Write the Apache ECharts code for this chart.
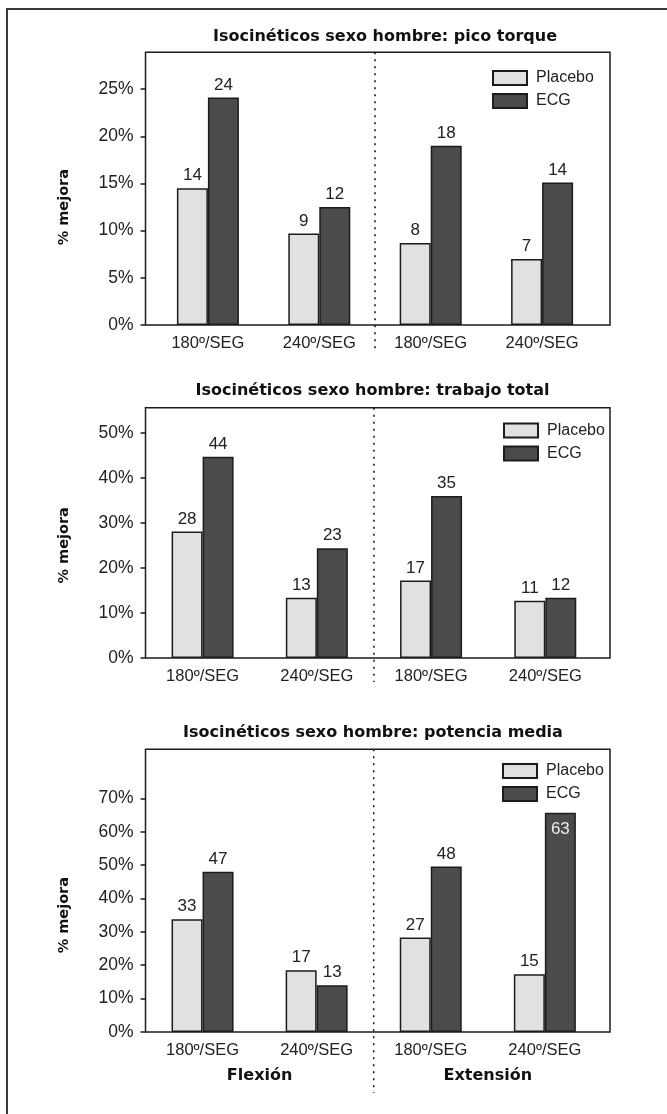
<!DOCTYPE html>
<html>
<head>
<meta charset="utf-8">
<script src="https://cdn.jsdelivr.net/npm/echarts@6/dist/echarts.min.js"></script>
<style>
html, body { margin: 0; padding: 0; background: #fff; }
#frame { position: absolute; left: 6px; top: 7.5px; width: 720px; height: 1200px; border: 2.5px solid #3a3a3a; box-sizing: border-box; }
#chart { position: absolute; left: 0; top: 0; width: 667px; height: 1114px; }
</style>
</head>
<body>
<div id="frame"></div>
<div id="chart"></div>
<script>
// ---------- data ----------
const categories = ['180º/SEG', '240º/SEG', '180º/SEG', '240º/SEG'];
const groupNames = ['Flexión', 'Extensión'];
const seriesNames = ['Placebo', 'ECG'];
const titles = [
  'Isocinéticos sexo hombre: pico torque',
  'Isocinéticos sexo hombre: trabajo total',
  'Isocinéticos sexo hombre: potencia media'
];
const yAxisName = '% mejora';

// bar heights (% mejora) as drawn
const torquePlacebo = [14.5, 9.7, 8.7, 7.0];
const torqueECG = [24.1, 12.5, 19.0, 15.1];
const trabajoPlacebo = [28.1, 13.4, 17.2, 12.7];
const trabajoECG = [44.7, 24.4, 36.0, 13.4];
const potenciaPlacebo = [33.8, 18.5, 28.3, 17.3];
const potenciaECG = [48.0, 14.0, 49.6, 65.7];

// numbers printed above the bars
const torquePlaceboLabels = [14, 9, 8, 7];
const torqueECGLabels = [24, 12, 18, 14];
const trabajoPlaceboLabels = [28, 13, 17, 11];
const trabajoECGLabels = [44, 23, 35, 12];
const potenciaPlaceboLabels = [33, 17, 27, 15];
const potenciaECGLabels = [47, 13, 48, 63];

// y tick labels
const torqueTicks = [0, 5, 10, 15, 20, 25];
const trabajoTicks = [0, 10, 20, 30, 40, 50];
const potenciaTicks = [0, 10, 20, 30, 40, 50, 60, 70];

// ---------- layout ----------
const W = 667, H = 1114;
const BOX_LEFT = 145.5, BOX_RIGHT = 610;
const panels = [
  { title: titles[0], placebo: torquePlacebo, ecg: torqueECG, pl: torquePlaceboLabels, el: torqueECGLabels,
    ticks: torqueTicks, yMax: 28.9, top: 52.3, bottom: 325, plotLeft: 152.2, plotRight: 597.8,
    titleX: 385, titleTop: 28, legendLeft: 492, legendTop: 69.5, ext: 27, namePad: 37,
    groups: false, insideECG: [] },
  { title: titles[1], placebo: trabajoPlacebo, ecg: trabajoECG, pl: trabajoPlaceboLabels, el: trabajoECGLabels,
    ticks: trabajoTicks, yMax: 55.6, top: 407.7, bottom: 658, plotLeft: 145.5, plotRight: 602.4,
    titleX: 372.5, titleTop: 382, legendLeft: 503, legendTop: 422, ext: 24, namePad: 25,
    groups: false, insideECG: [] },
  { title: titles[2], placebo: potenciaPlacebo, ecg: potenciaECG, pl: potenciaPlaceboLabels, el: potenciaECGLabels,
    ticks: potenciaTicks, yMax: 84.7, top: 749.3, bottom: 1032, plotLeft: 145.5, plotRight: 601.9,
    titleX: 373, titleTop: 723.5, legendLeft: 502, legendTop: 762.5, ext: 61, namePad: 49,
    groups: true, insideECG: [3] }
];

const REG = 'Liberation Sans, Arial, sans-serif';
const BOLD = 'DejaVu Sans, Liberation Sans, sans-serif';
const INK = '#1c1c1c';
const PLACEBO_FILL = '#e1e1e1';
const ECG_FILL = '#4b4b4b';

const option = {
  animation: false,
  backgroundColor: 'transparent',
  textStyle: { fontFamily: REG },
  title: [], legend: [], grid: [], xAxis: [], yAxis: [], series: []
};

// plotting grids (no border)
panels.forEach((p, i) => {
  option.grid.push({
    left: p.plotLeft, right: W - p.plotRight, top: p.top, bottom: H - p.bottom, show: false
  });
});
// frame boxes around each plot
panels.forEach((p) => {
  option.grid.push({
    left: BOX_LEFT, right: W - BOX_RIGHT, top: p.top, bottom: H - p.bottom,
    show: true, borderColor: INK, borderWidth: 1.5, backgroundColor: 'transparent', z: 3
  });
});

panels.forEach((p, i) => {
  option.title.push({
    text: p.title, left: p.titleX, top: p.titleTop, textAlign: 'center', padding: 0,
    textStyle: { fontFamily: BOLD, fontWeight: 'bold', fontSize: 16, lineHeight: 18, color: '#111' }
  });
  option.legend.push({
    data: seriesNames, orient: 'vertical', left: p.legendLeft, top: p.legendTop, padding: 0,
    itemWidth: 34, itemHeight: 14, itemGap: 6, icon: 'rect', selectedMode: false,
    textStyle: { fontFamily: REG, fontSize: 16, lineHeight: 17, color: '#222', padding: [0, 0, 0, 4] }
  });
  const xIdx = option.xAxis.length;
  p.xIdx = xIdx;
  option.xAxis.push({
    type: 'category', gridIndex: i, data: categories,
    axisLine: { show: false }, axisTick: { show: false }, splitLine: { show: false },
    axisLabel: { interval: 0, margin: 10, fontSize: 16.5, color: '#222', fontFamily: REG }
  });
  if (p.groups) {
    option.xAxis.push({
      type: 'category', gridIndex: i, position: 'bottom', data: groupNames,
      axisLine: { show: false }, axisTick: { show: false }, splitLine: { show: false },
      axisLabel: { interval: 0, margin: 36, fontFamily: BOLD, fontWeight: 'bold', fontSize: 16, color: '#111' }
    });
  }
  option.yAxis.push({
    type: 'value', gridIndex: i, min: 0, max: p.yMax, offset: p.plotLeft - BOX_LEFT,
    axisLine: { show: false },
    axisTick: { show: true, customValues: p.ticks, length: 5, lineStyle: { color: INK, width: 1.5 } },
    axisLabel: { customValues: p.ticks, formatter: '{value}%', margin: 12, fontSize: 17.5, color: '#222', fontFamily: REG },
    splitLine: { show: false },
    name: yAxisName, nameLocation: 'middle', nameGap: 74, nameRotate: 90,
    nameTextStyle: { fontFamily: BOLD, fontWeight: 'bold', fontSize: 14.5, color: '#111', padding: [0, p.namePad, 0, 0] }
  });

  const labelTop = { show: true, position: 'top', distance: 4, fontSize: 17, color: '#222', fontFamily: REG };
  option.series.push({
    name: seriesNames[0], type: 'bar', xAxisIndex: xIdx, yAxisIndex: i,
    data: p.placebo, barWidth: 31, barGap: '0%',
    itemStyle: { color: PLACEBO_FILL, borderColor: INK, borderWidth: 1.5 },
    label: Object.assign({}, labelTop, { formatter: (prm) => String(p.pl[prm.dataIndex]) })
  });
  option.series.push({
    name: seriesNames[1], type: 'bar', xAxisIndex: xIdx, yAxisIndex: i,
    data: p.ecg.map((v, k) => p.insideECG.indexOf(k) >= 0
      ? { value: v, label: { position: 'insideTop', distance: 8, color: '#ececec' } }
      : v),
    barWidth: 31, barGap: '0%',
    itemStyle: { color: ECG_FILL, borderColor: INK, borderWidth: 1.5 },
    label: Object.assign({}, labelTop, { formatter: (prm) => String(p.el[prm.dataIndex]) })
  });
});

const chart = echarts.init(document.getElementById('chart'), null, { renderer: 'canvas' });
chart.setOption(option);

// dotted separator between the Flexión and Extensión groups, placed via the category axis
const graphics = panels.map((p) => {
  const a = chart.convertToPixel({ xAxisIndex: p.xIdx }, 1);
  const b = chart.convertToPixel({ xAxisIndex: p.xIdx }, 2);
  const x = (a + b) / 2;
  return {
    type: 'line', silent: true, z: 10,
    shape: { x1: x, y1: p.top, x2: x, y2: p.bottom + p.ext },
    style: { stroke: '#111', lineWidth: 1.5, lineDash: [2, 5] }
  };
});
chart.setOption({ graphic: graphics });
</script>
</body>
</html>
